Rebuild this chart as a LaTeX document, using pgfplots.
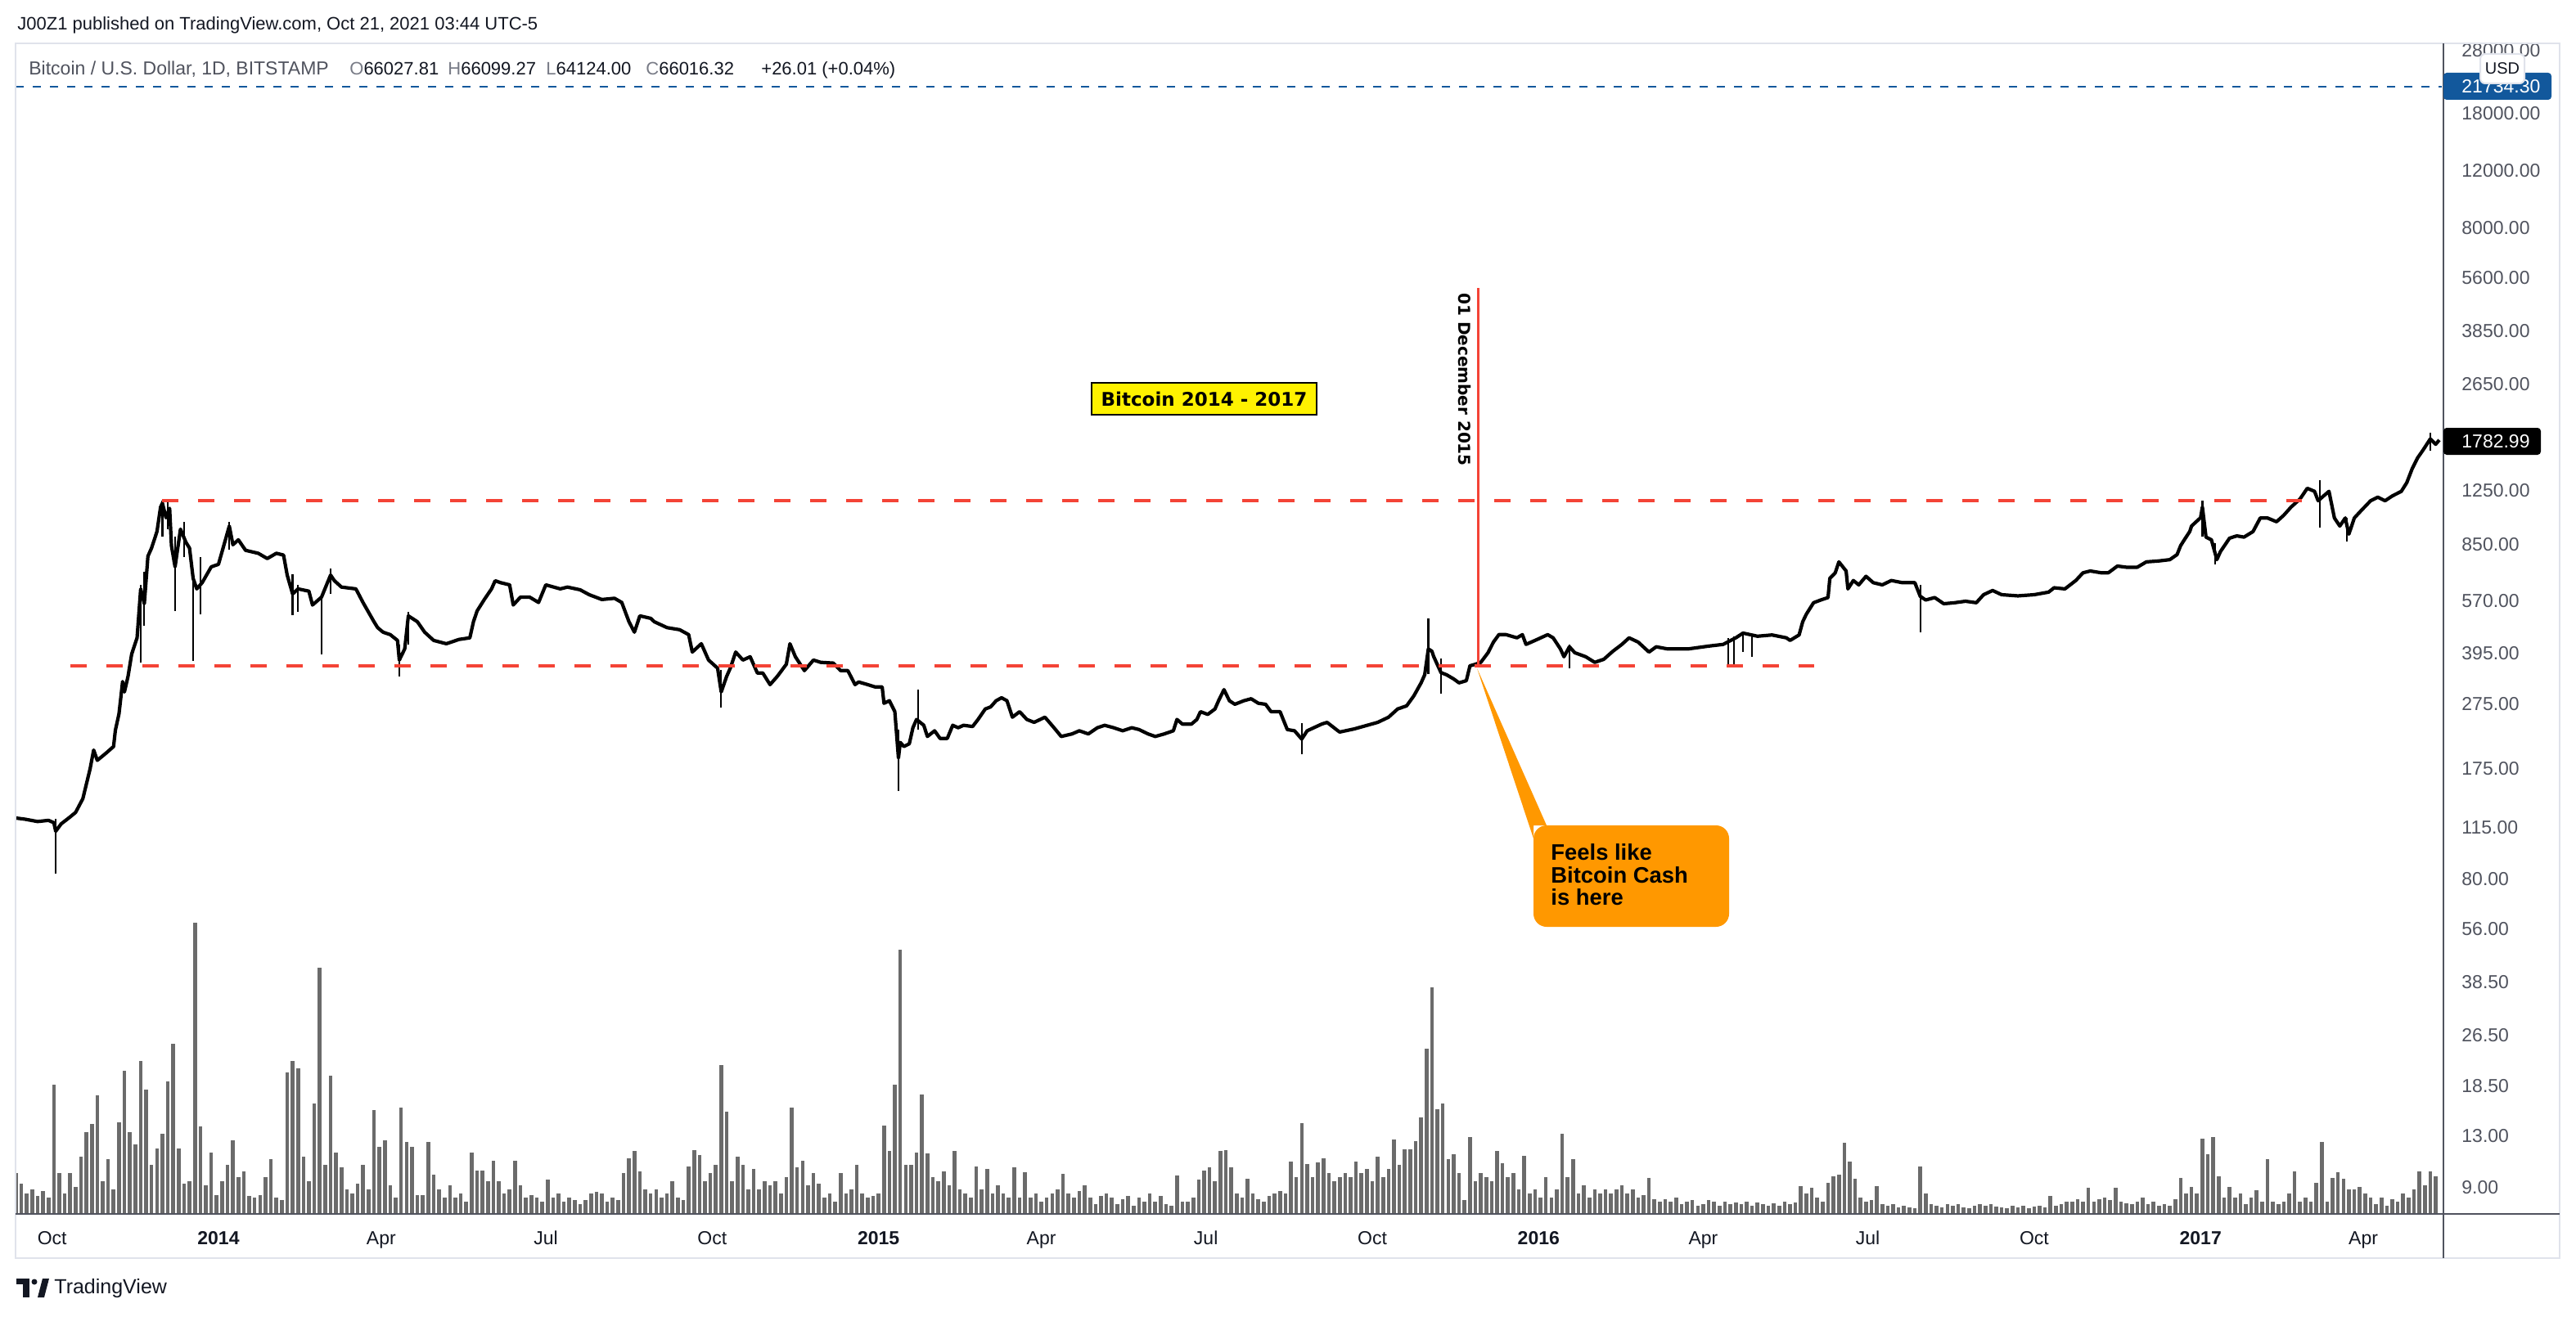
\documentclass[border=0pt]{standalone}
\usepackage{pgfplots}
\pgfplotsset{compat=1.18}
\usepackage{pgfplotstable}
\usepackage{fontspec}
\setmainfont{Liberation Sans}
\newfontfamily\dejavu{DejaVu Sans}
\definecolor{tvtext}{HTML}{131722}
\definecolor{tvgray}{HTML}{50535E}
\definecolor{tvlgray}{HTML}{787B86}
\definecolor{tvlight}{HTML}{E0E3EB}
\definecolor{tvred}{HTML}{F44336}
\definecolor{tvblue}{HTML}{12589C}
\definecolor{tvorange}{HTML}{FF9800}
\newcommand{\fs}[1]{\fontsize{#1}{#1}\selectfont}

% relative daily volume (bar height), sampled every 3 days; d = days since 1 Jan 2014
\pgfplotstableread[row sep=\\]{
d v\\
-112 50\\ -109 37\\ -106 25\\ -103 30\\ -100 22\\ -97 28\\ -94 20\\ -91 158\\ -88 50\\ -85 25\\ -82 50\\ -79 33\\ -76 70\\ -73 100\\ -70 110\\ -67 145\\ -64 40\\ -61 67\\ -58 30\\ -55 112\\ -52 175\\ -49 100\\ -46 85\\ -43 187\\ -40 152\\ -37 60\\ -34 80\\ -31 98\\ -28 162\\ -25 208\\ -22 80\\ -19 37\\ -16 40\\ -13 356\\ -10 107\\ -7 35\\ -4 75\\ -1 23\\ 2 40\\ 5 60\\ 8 90\\ 11 45\\ 14 52\\ 17 22\\ 20 20\\ 23 23\\ 26 45\\ 29 67\\ 32 20\\ 35 17\\ 38 173\\ 41 187\\ 44 178\\ 47 70\\ 50 40\\ 53 135\\ 56 301\\ 59 60\\ 62 169\\ 65 75\\ 68 57\\ 71 30\\ 74 25\\ 77 37\\ 80 60\\ 83 30\\ 86 127\\ 89 82\\ 92 90\\ 95 35\\ 98 20\\ 101 130\\ 104 88\\ 107 82\\ 110 23\\ 113 23\\ 116 88\\ 119 48\\ 122 30\\ 125 20\\ 128 35\\ 131 20\\ 134 25\\ 137 15\\ 140 75\\ 143 53\\ 146 53\\ 149 40\\ 152 65\\ 155 40\\ 158 25\\ 161 30\\ 164 65\\ 167 35\\ 170 20\\ 173 23\\ 176 20\\ 179 15\\ 182 42\\ 185 20\\ 188 25\\ 191 15\\ 194 20\\ 197 17\\ 200 12\\ 203 17\\ 206 25\\ 209 27\\ 212 25\\ 215 15\\ 218 20\\ 221 17\\ 224 50\\ 227 68\\ 230 77\\ 233 52\\ 236 30\\ 239 25\\ 242 30\\ 245 20\\ 248 25\\ 251 40\\ 254 20\\ 257 17\\ 260 58\\ 263 78\\ 266 72\\ 269 40\\ 272 50\\ 275 60\\ 278 182\\ 281 125\\ 284 40\\ 287 70\\ 290 60\\ 293 30\\ 296 55\\ 299 30\\ 302 40\\ 305 35\\ 308 40\\ 311 25\\ 314 45\\ 317 130\\ 320 57\\ 323 65\\ 326 35\\ 329 50\\ 332 37\\ 335 20\\ 338 25\\ 341 15\\ 344 50\\ 347 25\\ 350 30\\ 353 60\\ 356 25\\ 359 20\\ 362 22\\ 365 25\\ 368 108\\ 371 77\\ 374 158\\ 377 323\\ 380 60\\ 383 60\\ 386 75\\ 389 146\\ 392 74\\ 395 45\\ 398 40\\ 401 52\\ 404 35\\ 407 77\\ 410 30\\ 413 25\\ 416 20\\ 419 58\\ 422 30\\ 425 55\\ 428 25\\ 431 35\\ 434 25\\ 437 20\\ 440 57\\ 443 20\\ 446 51\\ 449 20\\ 452 25\\ 455 15\\ 458 20\\ 461 25\\ 464 30\\ 467 49\\ 470 25\\ 473 20\\ 476 28\\ 479 35\\ 482 20\\ 485 12\\ 488 22\\ 491 25\\ 494 20\\ 497 12\\ 500 18\\ 503 22\\ 506 10\\ 509 20\\ 512 15\\ 515 25\\ 518 15\\ 521 22\\ 524 12\\ 527 10\\ 530 47\\ 533 15\\ 536 15\\ 539 20\\ 542 42\\ 545 53\\ 548 57\\ 551 40\\ 554 77\\ 557 78\\ 560 57\\ 563 25\\ 566 20\\ 569 43\\ 572 25\\ 575 18\\ 578 15\\ 581 22\\ 584 25\\ 587 28\\ 590 25\\ 593 64\\ 596 45\\ 599 111\\ 602 61\\ 605 45\\ 608 63\\ 611 68\\ 614 50\\ 617 40\\ 620 45\\ 623 50\\ 626 45\\ 629 64\\ 632 50\\ 635 55\\ 638 40\\ 641 70\\ 644 45\\ 647 55\\ 650 91\\ 653 60\\ 656 79\\ 659 79\\ 662 89\\ 665 118\\ 668 202\\ 671 277\\ 674 128\\ 677 135\\ 680 67\\ 683 73\\ 686 50\\ 689 17\\ 692 94\\ 695 40\\ 698 50\\ 701 45\\ 704 40\\ 707 77\\ 710 62\\ 713 45\\ 716 50\\ 719 30\\ 722 71\\ 725 25\\ 728 30\\ 731 20\\ 734 45\\ 737 20\\ 740 30\\ 743 98\\ 746 45\\ 749 67\\ 752 25\\ 755 35\\ 758 20\\ 761 30\\ 764 25\\ 767 30\\ 770 25\\ 773 30\\ 776 35\\ 779 25\\ 782 30\\ 785 20\\ 788 23\\ 791 44\\ 794 18\\ 797 15\\ 800 18\\ 803 15\\ 806 20\\ 809 12\\ 812 15\\ 815 17\\ 818 10\\ 821 12\\ 824 17\\ 827 15\\ 830 10\\ 833 15\\ 836 12\\ 839 14\\ 842 12\\ 845 15\\ 848 10\\ 851 14\\ 854 12\\ 857 10\\ 860 13\\ 863 10\\ 866 15\\ 869 12\\ 872 14\\ 875 34\\ 878 25\\ 881 32\\ 884 20\\ 887 15\\ 890 38\\ 893 46\\ 896 48\\ 899 87\\ 902 64\\ 905 43\\ 908 20\\ 911 15\\ 914 17\\ 917 34\\ 920 12\\ 923 10\\ 926 12\\ 929 8\\ 932 10\\ 935 8\\ 938 7\\ 941 58\\ 944 25\\ 947 12\\ 950 10\\ 953 8\\ 956 12\\ 959 10\\ 962 12\\ 965 8\\ 968 7\\ 971 10\\ 974 12\\ 977 10\\ 980 12\\ 983 9\\ 986 8\\ 989 7\\ 992 10\\ 995 8\\ 998 10\\ 1001 7\\ 1004 9\\ 1007 10\\ 1010 8\\ 1013 22\\ 1016 10\\ 1019 12\\ 1022 15\\ 1025 15\\ 1028 18\\ 1031 15\\ 1034 32\\ 1037 15\\ 1040 18\\ 1043 20\\ 1046 17\\ 1049 32\\ 1052 15\\ 1055 13\\ 1058 12\\ 1061 15\\ 1064 20\\ 1067 12\\ 1070 15\\ 1073 10\\ 1076 12\\ 1079 10\\ 1082 18\\ 1085 44\\ 1088 25\\ 1091 33\\ 1094 25\\ 1097 92\\ 1100 73\\ 1103 94\\ 1106 46\\ 1109 20\\ 1112 33\\ 1115 20\\ 1118 25\\ 1121 12\\ 1124 20\\ 1127 29\\ 1130 15\\ 1133 67\\ 1136 15\\ 1139 12\\ 1142 15\\ 1145 25\\ 1148 52\\ 1151 15\\ 1154 20\\ 1157 15\\ 1160 38\\ 1163 88\\ 1166 15\\ 1169 44\\ 1172 51\\ 1175 43\\ 1178 30\\ 1181 30\\ 1184 33\\ 1187 25\\ 1190 20\\ 1193 12\\ 1196 20\\ 1199 10\\ 1202 18\\ 1205 15\\ 1208 25\\ 1211 20\\ 1214 30\\ 1217 52\\ 1220 35\\ 1223 52\\ 1226 46\\
}\volumedata

\begin{document}
\begin{tikzpicture}
\fill[white] (0,0) rectangle (1574pt,-805pt);
\path[use as bounding box] (0,0) rectangle (1574pt,-805pt);

% ---------- volume (overlay pane) ----------
\begin{axis}[
  at={(9.5pt,-742pt)}, anchor=south west, scale only axis,
  width=1482.5pt, height=715.5pt,
  xmin=-112.2, xmax=1229.4, ymin=0, ymax=1431,
  hide axis]
\addplot[ycomb, draw=black!58, line width=2.3pt, mark=none] table[x=d, y=v] {\volumedata};
\end{axis}

% ---------- price pane ----------
\begin{axis}[
  at={(9.5pt,-742pt)}, anchor=south west, scale only axis,
  width=1482.5pt, height=715.5pt,
  xmin=-112.2, xmax=1229.4,
  ymode=log, ymin=7.48, ymax=29480,
  axis line style={draw=none},
  major tick length=0pt, minor tick length=0pt,
  minor ytick={}, minor xtick={},
  xtick={-92,0,90,181,273,365,455,546,638,730,821,912,1004,1096,1186},
  xticklabels={Oct,\textbf{2014},Apr,Jul,Oct,\textbf{2015},Apr,Jul,Oct,\textbf{2016},Apr,Jul,Oct,\textbf{2017},Apr},
  xticklabel style={anchor=base, inner sep=0pt, yshift=-18.5pt, font=\fs{11.5}, text=tvtext},
  ytick={28000,18000,12000,8000,5600,3850,2650,1250,850,570,395,275,175,115,80,56,38.5,26.5,18.5,13,9},
  yticklabels={28000.00,18000.00,12000.00,8000.00,5600.00,3850.00,2650.00,1250.00,850.00,570.00,395.00,275.00,175.00,115.00,80.00,56.00,38.50,26.50,18.50,13.00,9.00},
  yticklabel pos=right,
  yticklabel style={anchor=west, inner sep=0pt, xshift=12pt, font=\fs{11.5}, text=tvgray},
  ]
% last-price dashed line
\addplot[tvblue, line width=1pt, dash pattern=on 5pt off 5.5pt] coordinates {(-112.2,21734.3)(1229.4,21734.3)};
% price (daily close)
\addplot[black, line width=2.1pt, line join=round, mark=none] coordinates {
(-112,123)(-107,122)(-100,120)(-94,121)(-91,119)(-90,112)(-87,118)(-82,124)(-79,128)(-75,141)(-71,174)(-69,199)(-67,185)(-62,195)(-58,204)(-57,229)(-55,257)(-53,323)(-52,300)(-50,335)(-48,392)(-45,440)(-43,622)(-41,560)(-39,784)(-37,830)(-34,933)(-32,1110)(-31,1140)(-29,1029)(-27,1100)(-26,845)(-24,727)(-21,949)(-18,865)(-16,830)(-14,670)(-12,622)(-9,650)(-4,727)(0,740)(6,970)(8,850)(11,880)(15,817)(22,800)(27,771)(32,800)(36,790)(38,686)(41,600)(44,622)(50,612)(52,555)(57,587)(62,686)(64,660)(68,630)(76,622)(80,564)(86,493)(88,473)(91,458)(95,450)(99,432)(100,376)(103,407)(105,514)(110,493)(114,458)(119,432)(126,422)(133,435)(139,440)(141,493)(143,532)(147,577)(151,622)(153,659)(156,650)(161,640)(163,555)(167,587)(172,587)(177,565)(181,640)(189,622)(193,630)(200,618)(205,597)(212,577)(219,582)(223,565)(227,493)(230,458)(233,514)(239,505)(241,493)(248,473)(255,466)(260,450)(262,398)(267,422)(271,376)(276,355)(278,300)(281,335)(283,355)(286,398)(290,376)(294,385)(298,343)(301,343)(305,316)(309,335)(314,365)(316,422)(319,385)(324,349)(329,376)(333,370)(340,368)(344,349)(348,349)(352,316)(354,322)(359,316)(363,311)(367,311)(368,277)(371,282)(374,261)(376,188)(377,210)(379,204)(382,208)(384,233)(386,247)(390,237)(392,219)(396,228)(399,216)(403,216)(406,237)(409,233)(412,237)(417,235)(420,247)(424,266)(427,270)(430,282)(433,288)(436,282)(439,251)(443,261)(447,247)(451,242)(457,251)(462,233)(466,219)(472,223)(476,228)(481,223)(486,233)(490,237)(495,233)(500,228)(505,233)(509,230)(514,223)(518,219)(523,223)(528,228)(530,247)(533,239)(538,239)(541,247)(543,261)(547,256)(551,266)(553,282)(556,305)(559,282)(562,275)(567,282)(571,286)(575,277)(579,275)(582,261)(587,261)(591,230)(595,228)(599,215)(602,228)(610,239)(613,242)(619,228)(620,226)(628,231)(634,236)(641,242)(647,251)(652,266)(657,272)(661,292)(665,320)(667,339)(669,407)(671,400)(672,385)(676,344)(679,339)(683,329)(686,320)(690,325)(692,361)(695,365)(698,370)(702,396)(705,427)(708,450)(712,450)(718,440)(721,450)(723,420)(728,432)(735,450)(738,440)(742,407)(744,385)(747,413)(750,396)(756,385)(761,370)(766,378)(771,400)(776,420)(780,440)(785,427)(791,398)(795,413)(801,407)(813,407)(824,415)(832,420)(839,440)(843,455)(851,445)(859,449)(867,440)(869,432)(874,449)(876,493)(878,520)(882,564)(886,575)(890,585)(891,670)(894,697)(896,753)(900,706)(901,622)(904,660)(907,640)(911,680)(915,650)(920,640)(925,660)(931,650)(938,650)(941,590)(944,575)(949,585)(954,560)(960,564)(966,570)(972,564)(976,597)(981,615)(986,597)(995,592)(1004,597)(1012,608)(1015,627)(1021,622)(1027,660)(1031,697)(1035,706)(1041,697)(1045,697)(1050,731)(1055,725)(1061,725)(1066,753)(1073,758)(1079,765)(1083,793)(1085,845)(1087,880)(1090,933)(1091,970)(1096,1029)(1097,1110)(1099,897)(1102,880)(1105,765)(1107,810)(1112,890)(1116,905)(1120,897)(1125,933)(1129,1027)(1133,1027)(1138,1000)(1142,1047)(1146,1109)(1151,1175)(1155,1267)(1159,1240)(1161,1160)(1164,1200)(1167,1240)(1170,1027)(1173,970)(1176,1027)(1178,916)(1181,1027)(1185,1085)(1190,1160)(1194,1190)(1198,1160)(1202,1200)(1207,1240)(1210,1318)(1213,1455)(1216,1571)(1219,1660)(1223,1796)(1226,1730)(1228,1783)
};
% daily high-low wicks
\addplot[black, line width=1.1pt, mark=none, unbounded coords=jump] coordinates {
(-90,83)(-90,122)(-90,nan) (-43,370)(-43,640)(-43,nan) (-41,480)(-41,700)(-41,nan) (-31,900)(-31,1163)(-31,nan) (-28,950)(-28,1150)(-28,nan) (-24,532)(-24,900)(-24,nan) (-19,780)(-19,1000)(-19,nan) (-14,374)(-14,700)(-14,nan) (-10,520)(-10,780)(-10,nan) (6,820)(6,1000)(6,nan) (41,516)(41,690)(41,nan) (44,528)(44,640)(44,nan) (57,392)(57,600)(57,nan) (62,600)(62,720)(62,nan) (100,335)(100,420)(100,nan) (105,420)(105,530)(105,nan) (278,269)(278,350)(278,nan) (376,149)(376,230)(376,nan) (387,230)(387,305)(387,nan) (599,193)(599,240)(599,nan) (669,340)(669,505)(669,nan) (676,296)(676,380)(676,nan) (747,355)(747,420)(747,nan) (835,361)(835,440)(835,nan) (838,361)(838,445)(838,nan) (843,398)(843,460)(843,nan) (848,385)(848,450)(848,nan) (941,458)(941,640)(941,nan) (1097,900)(1097,1160)(1097,nan) (1104,740)(1104,860)(1104,nan) (1162,960)(1162,1343)(1162,nan) (1177,871)(1177,1030)(1177,nan) (1223,1650)(1223,1880)
};
% horizontal levels
\addplot[tvred, line width=2pt, dash pattern=on 10pt off 12pt] coordinates {(-31.2,1162)(1152,1162)};
\addplot[tvred, line width=2pt, dash pattern=on 10pt off 12pt] coordinates {(-81.9,361)(882.4,361)};
% vertical marker, 01 Dec 2015
\addplot[tvred, line width=1.5pt] coordinates {(696.7,361)(696.7,5227)};
\end{axis}

% ---------- overlay in reference pixels ----------
\begin{scope}[x=0.5pt,y=-0.5pt]
% frame
\draw[tvlight, line width=1pt] (19,53) -- (3128,53) -- (3128,1538) -- (19,1538) -- cycle;
\draw[tvgray, line width=1.2pt] (19,1484) -- (3128,1484);
\draw[tvgray, line width=1.2pt] (2986,53) -- (2986,1538);
% header
\node[anchor=base west, inner sep=0pt, font=\fs{11}, text=tvtext] at (21,37) {J00Z1 published on TradingView.com, Oct 21, 2021 03:44 UTC-5};
\node[anchor=base west, inner sep=0pt, font=\fs{11.5}, text=tvgray] at (35,92) {Bitcoin / U.S. Dollar, 1D, BITSTAMP};
\node[anchor=base west, inner sep=0pt, font=\fs{11}, text=tvtext] at (427,92) {\textcolor{tvlgray}{O}66027.81};
\node[anchor=base west, inner sep=0pt, font=\fs{11}, text=tvtext] at (547,92) {\textcolor{tvlgray}{H}66099.27};
\node[anchor=base west, inner sep=0pt, font=\fs{11}, text=tvtext] at (667,92) {\textcolor{tvlgray}{L}64124.00};
\node[anchor=base west, inner sep=0pt, font=\fs{11}, text=tvtext] at (789,92) {\textcolor{tvlgray}{C}66016.32};
\node[anchor=base west, inner sep=0pt, font=\fs{11}, text=tvtext] at (930,92) {+26.01 (+0.04\%)};
% price scale labels
\fill[tvblue, rounded corners=2pt] (2986,89) rectangle (3118,122);
\node[anchor=west, inner sep=0pt, font=\fs{11.5}, text=white] at (3008,105.5) {21734.30};
\draw[fill=white, draw=tvlight, line width=1pt, rounded corners=3pt] (3031,66) rectangle (3085,102);
\node[inner sep=0pt, font=\fs{10}, text=tvtext] at (3058,84) {USD};
\fill[black, rounded corners=2pt] (2986,523) rectangle (3105,556);
\node[anchor=west, inner sep=0pt, font=\fs{11.5}, text=white] at (3008,539.5) {1782.99};
% annotations
\node[draw=black, line width=1pt, fill=yellow, inner sep=0pt, minimum width=137.5pt, minimum height=19.5pt, font=\dejavu\bfseries\fs{11.5}, text=black] at (1471.5,487.5) {Bitcoin 2014 - 2017};
\node[rotate=-90, inner sep=0pt, font=\dejavu\bfseries\fs{10}, text=black] at (1790,464) {01 December 2015};
\fill[tvorange] (1805,817) -- (1890,1009) -- (1874,1009) -- (1874,1025) -- cycle;
\fill[tvorange, rounded corners=8pt] (1874,1009) rectangle (2113,1133);
\node[anchor=base west, inner sep=0pt, font=\bfseries\fs{13.7}, text=black] at (1895,1051) {Feels like};
\node[anchor=base west, inner sep=0pt, font=\bfseries\fs{13.7}, text=black] at (1895,1079) {Bitcoin Cash};
\node[anchor=base west, inner sep=0pt, font=\bfseries\fs{13.7}, text=black] at (1895,1106) {is here};
% TradingView logo
\fill[tvtext] (20,1563) rectangle (36,1570);
\fill[tvtext] (28,1563) rectangle (36,1586);
\fill[tvtext] (42,1567) circle (3.5);
\fill[tvtext] (46,1586) -- (52,1563) -- (60,1563) -- (54,1586) -- cycle;
\node[anchor=west, inner sep=0pt, font=\fs{12.5}, text=tvtext] at (66,1575) {TradingView};
\end{scope}
\end{tikzpicture}
\end{document}
